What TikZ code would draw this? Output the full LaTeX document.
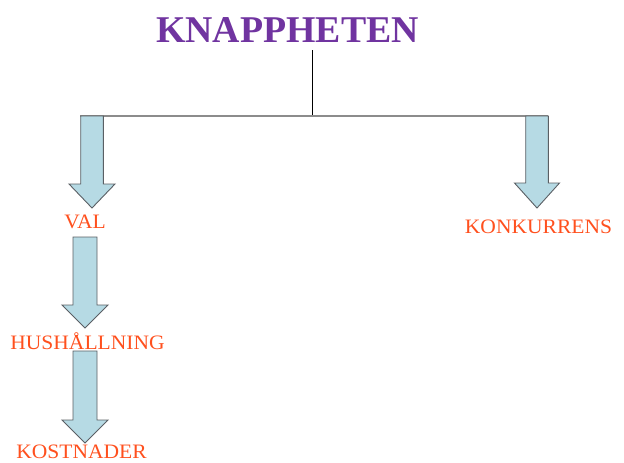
\documentclass[tikz,border=0pt]{standalone}
\usepackage{fontspec}
\setmainfont{Liberation Serif}
\newfontfamily\lblfont[FakeStretch=1.05]{Liberation Serif}
\definecolor{titlepurple}{RGB}{112,52,160}
\definecolor{labelorange}{RGB}{255,80,30}
\definecolor{arrowfill}{RGB}{182,218,228}
\definecolor{arrowline}{RGB}{90,95,100}
\definecolor{barline}{RGB}{140,140,140}
\newcommand{\bigdownarrow}[7]{%
  % #1 name, #2 center x, #3 top y, #4 head y, #5 tip y, #6 half shaft, #7 half head
  \draw[fatarrow] (#2-#6,#3) -- (#2+#6,#3) -- (#2+#6,#4) -- (#2+#7,#4)
    -- (#2,#5) coordinate (#1tip) -- (#2-#7,#4) -- (#2-#6,#4) -- cycle;
}
\begin{document}
\begin{tikzpicture}[x=1pt,y=-1pt,
  fatarrow/.style={fill=arrowfill,draw=arrowline,line width=0.9pt,line join=miter},
  lbl/.style={anchor=base,inner sep=0pt,text=labelorange,font=\lblfont\fontsize{20.5}{24}\selectfont},
  ttl/.style={anchor=base,inner sep=0pt,text=titlepurple,font=\bfseries\fontsize{37.8}{44}\selectfont}]
\useasboundingbox (0,0) rectangle (624,463);
\node[ttl] (title) at (287.5,42) {KNAPPHETEN};
\coordinate (stem) at (312,50);
\coordinate (junction) at (312,116);
\coordinate (barL) at (80,116);
\coordinate (barR) at (548.3,116);
\draw[black,line width=0.9pt] (stem) -- (junction);
\draw[barline,line width=1.3pt] (barL) -- (barR);
\bigdownarrow{a}{92}{116}{184}{208}{11.3}{23}
\bigdownarrow{b}{537}{116}{183}{208}{11.3}{22.5}
\bigdownarrow{c}{85}{237}{305}{328}{12}{23}
\bigdownarrow{d}{85}{351}{420}{443}{12}{23}
\node[lbl] (val) at (85,228) {VAL};
\node[lbl] (konk) at (538.5,233) {KONKURRENS};
\node[lbl] (hush) at (87.5,349) {HUSHÅLLNING};
\node[lbl] (kost) at (81.5,458) {KOSTNADER};
\end{tikzpicture}
\end{document}
